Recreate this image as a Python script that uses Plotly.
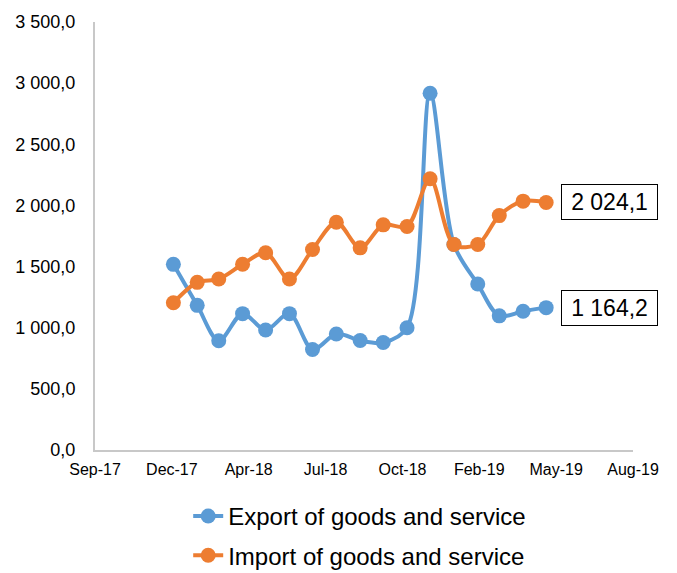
import plotly.graph_objects as go

months = ["2018-01-01", "2018-02-01", "2018-03-01", "2018-04-01", "2018-05-01", "2018-06-01",
          "2018-07-01", "2018-08-01", "2018-09-01", "2018-10-01", "2018-11-01", "2018-12-01",
          "2019-01-01", "2019-02-01", "2019-03-01", "2019-04-01", "2019-05-01"]
export_vals = [1518, 1183, 893, 1115, 981, 1115, 822, 949, 895, 879, 1000, 2917,
               1680, 1357, 1097, 1135, 1164.2]
import_vals = [1204, 1371, 1398, 1519, 1613, 1398, 1640, 1863, 1653, 1841, 1828, 2218,
               1680, 1680, 1917, 2035, 2024.1]
series_names = ["Export of goods and service", "Import of goods and service"]
tick_dates = ["2017-09-21", "2017-12-30", "2018-04-09", "2018-07-18", "2018-10-26",
              "2019-02-03", "2019-05-14", "2019-08-22"]
tick_labels = ["Sep-17", "Dec-17", "Apr-18", "Jul-18", "Oct-18", "Feb-19", "May-19", "Aug-19"]
y_ticks = [0, 500, 1000, 1500, 2000, 2500, 3000, 3500]

BLUE = "#5B9BD5"
ORANGE = "#ED7D31"
FONT = "Arial, Liberation Sans, sans-serif"


def fmt(v):
    s = f"{v:,.1f}"
    return s.replace(",", " ").replace(".", ",")


fig = go.Figure()
for name, vals, col, grp in [(series_names[0], export_vals, BLUE, "a"),
                             (series_names[1], import_vals, ORANGE, "b")]:
    fig.add_trace(go.Scatter(
        x=months, y=vals, name=name, mode="lines+markers", legendgroup=grp,
        line=dict(color=col, width=4, shape="spline", smoothing=0.9),
        marker=dict(color=col, size=15),
    ))

for vals in (import_vals, export_vals):
    fig.add_annotation(
        x=months[-1], y=vals[-1], text=fmt(vals[-1]), showarrow=False,
        xanchor="left", yanchor="middle", xshift=15,
        font=dict(family=FONT, size=23, color="black"),
        bordercolor="black", borderwidth=1, borderpad=5, bgcolor="white",
        width=85, height=24,
    )

fig.update_layout(
    width=677, height=573,
    margin=dict(l=95, r=44, t=16, b=123),
    plot_bgcolor="white", paper_bgcolor="white",
    separators=", ",
    font=dict(family=FONT, color="black"),
    showlegend=True,
    legend=dict(
        orientation="v", x=0.492, xanchor="center", yref="container", y=0.138, yanchor="top",
        font=dict(family=FONT, size=24, color="black"),
        tracegroupgap=5, traceorder="grouped", bgcolor="rgba(0,0,0,0)",
    ),
    xaxis=dict(
        type="date", range=[tick_dates[0], tick_dates[-1]],
        tickmode="array", tickvals=tick_dates, ticktext=tick_labels,
        showgrid=False, zeroline=False, showline=True, linecolor="#C8C8C8", linewidth=2,
        ticks="", tickfont=dict(family=FONT, size=16, color="black"),
        ticklabelstandoff=4,
    ),
    yaxis=dict(
        range=[0, 3500], tickmode="array", tickvals=y_ticks, tickformat=",.1f",
        showgrid=False, zeroline=False, showline=True, linecolor="#C8C8C8", linewidth=2,
        ticks="", tickfont=dict(family=FONT, size=18, color="black"),
        ticklabelstandoff=14,
    ),
)

fig.write_html("out.html", config={"displayModeBar": False},
               post_script="document.body.style.margin='0';document.body.style.overflow='hidden';")
